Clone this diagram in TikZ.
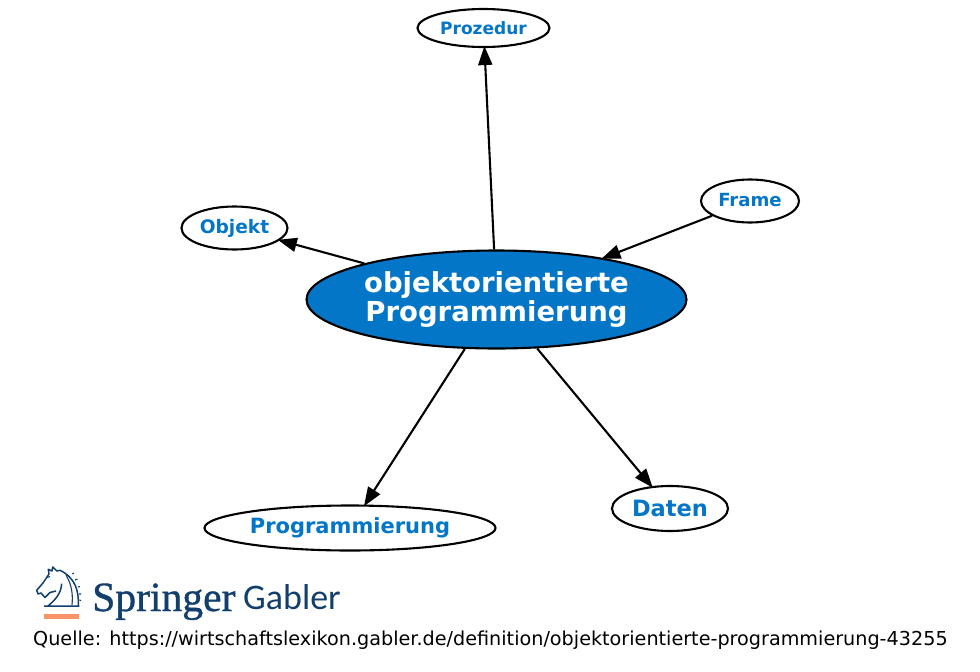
\documentclass[tikz,border=0pt]{standalone}
\usepackage{fontspec}
\setmainfont{DejaVu Sans}
\newfontfamily\logoserif[FakeBold=0.9]{Liberation Serif}
\newfontfamily\logosans{Carlito}
\usetikzlibrary{shapes.geometric,arrows.meta}
\definecolor{termblue}{HTML}{0476C8}
\definecolor{logoblue}{HTML}{123F6D}
\definecolor{logoorange}{HTML}{F79468}
\tikzset{
  term/.style={ellipse,draw=black,line width=2.1pt,fill=white,inner sep=0pt,align=center,
    text=termblue,font=\bfseries},
  hub/.style={term,fill=termblue,text=white},
  link/.style={-{Triangle[length=19pt,width=14pt]},line width=2.1pt,black,shorten >=-2pt},
}
\begin{document}
\begin{tikzpicture}[x=1pt,y=-1pt]
\useasboundingbox (0,0) rectangle (980,672);
\fill[white] (0,0) rectangle (980,672);
% concept nodes
\node[hub,minimum width=380pt,minimum height=98pt,font=\bfseries\fontsize{27.5}{29}\selectfont] (main) at (496.5,299.5) {objektorientierte\\Programmierung};
\node[term,minimum width=132pt,minimum height=38pt,font=\bfseries\fontsize{17}{18}\selectfont] (prozedur) at (483.5,28) {\raisebox{0.8pt}{Prozedur}};
\node[term,minimum width=98pt,minimum height=43pt,font=\bfseries\fontsize{18.1}{19}\selectfont] (frame) at (750,201) {\raisebox{1.5pt}{Frame}};
\node[term,minimum width=106pt,minimum height=43pt,font=\bfseries\fontsize{18.6}{20}\selectfont] (objekt) at (234.5,228) {\raisebox{-1pt}{Objekt}};
\node[term,minimum width=291pt,minimum height=45pt,font=\bfseries\fontsize{21}{22}\selectfont] (prog) at (350,528) {\raisebox{-0.7pt}{Programmierung}};
\node[term,minimum width=116pt,minimum height=45pt,font=\bfseries\fontsize{22.5}{24}\selectfont] (daten) at (670,508.5) {\raisebox{0.5pt}{Daten}};
% relations
\draw[link] (main) -- (prozedur);
\draw[link] (frame) -- (main);
\draw[link] (main) -- (objekt);
\draw[link] (main) -- (prog);
\draw[link] (main) -- (daten);
% publisher mark: knight's head above an orange bar
\fill[logoorange] (43.5,614) rectangle (78.5,618.5);
\draw[logoblue,line width=1.5pt,line join=round]
  (44,606) -- (79.3,606)
  (78.3,606) .. controls (79,592) and (76,578) .. (60,570.3)
  -- (57,571) -- (52.7,567) -- (52,571) -- (48.3,569.3) -- (49,574)
  -- (43,583) -- (36.7,590.3) -- (38,594) -- (41,593) -- (45,597.5)
  -- (50,592.5) -- (56,591)
  (61.7,583.7) .. controls (61,594) and (55,600) .. (48,606);
\draw[logoblue,line width=1.1pt,line join=round]
  (66,575) .. controls (72,585) and (73,595) .. (72,605)
  (47,577.5) -- (50,576.5)
  (72,574) -- (74,573) (75,580) -- (77.5,579) (78,587) -- (80,586.5) (79,594) -- (81,594) (79.5,600) -- (81,600.5);
\node[anchor=base west,inner sep=0pt,text=logoblue,font=\logoserif\fontsize{41.6}{42}\selectfont] (springer) at (92,611) {Springer};
\node[anchor=base west,inner sep=0pt,text=logoblue,font=\logosans\fontsize{36}{36}\selectfont] (gabler) at (243,609) {Gabler};
% source line
\node[anchor=base west,inner sep=0pt,text=black,font=\fontsize{19.2}{21}\selectfont] (quelle) at (33,645) {Quelle: https://wirtschaftslexikon.gabler.de/definition/objektorientierte-programmierung-43255};
\end{tikzpicture}
\end{document}
